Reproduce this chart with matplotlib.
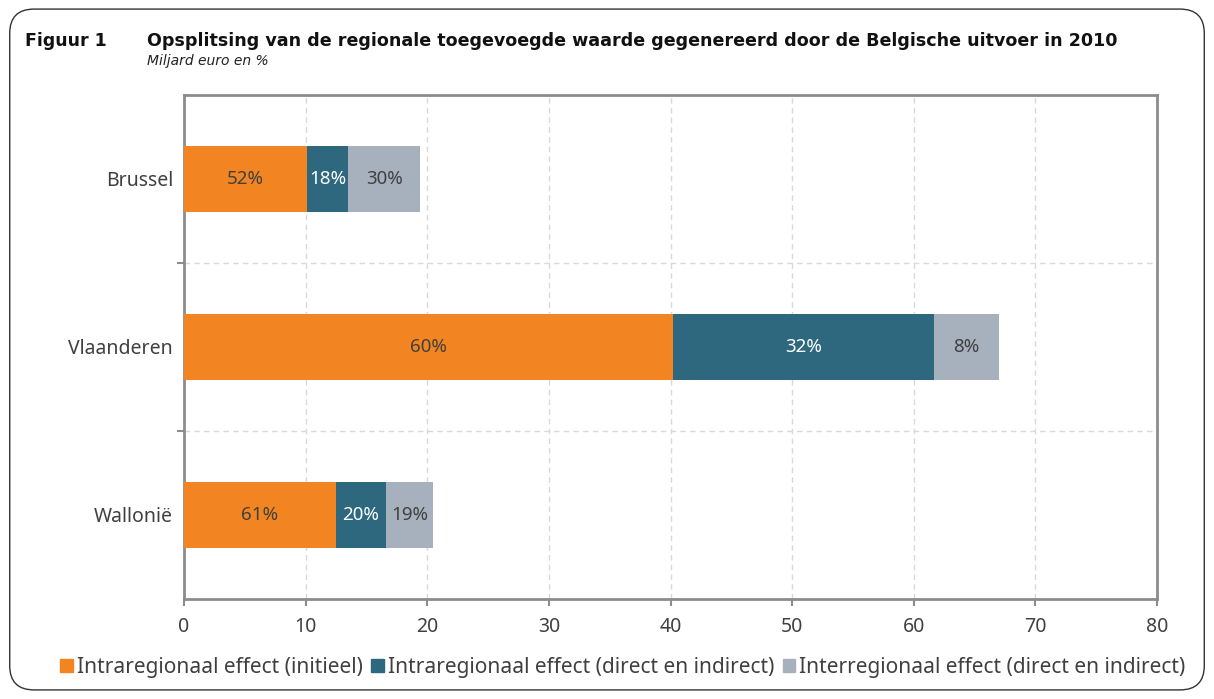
import matplotlib.pyplot as plt
from matplotlib.patches import FancyBboxPatch, Patch

regions = ['Brussel', 'Vlaanderen', 'Wallonië']
initieel = [10.1, 40.2, 12.5]
intra = [3.4, 21.5, 4.1]
inter = [5.9, 5.3, 3.9]
pct_initieel = ['52%', '60%', '61%']
pct_intra = ['18%', '32%', '20%']
pct_inter = ['30%', '8%', '19%']
legend_labels = ['Intraregionaal effect (initieel)',
                 'Intraregionaal effect (direct en indirect)',
                 'Interregionaal effect (direct en indirect)']
colors = ['#F28522', '#2E687E', '#A7B1BD']

plt.rcParams['font.family'] = ['Noto Sans', 'DejaVu Sans']

fig = plt.figure(figsize=(12.14, 6.99), dpi=100)
# rounded frame around the whole figure
frame = FancyBboxPatch((0.008, 0.013), 0.984, 0.974, boxstyle='round,pad=0,rounding_size=0.02',
                       transform=fig.transFigure, fill=False, edgecolor='#333333', lw=1.0,
                       mutation_aspect=1.74)
fig.patches.append(frame)

ax = fig.add_axes([184 / 1214, 1 - 599 / 699, (1157 - 184) / 1214, (599 - 95) / 699])
y = list(range(len(regions)))
h = 0.39
left2 = [a + b for a, b in zip(initieel, intra)]
b1 = ax.barh(y, initieel, height=h, color=colors[0], zorder=3)
b2 = ax.barh(y, intra, left=initieel, height=h, color=colors[1], zorder=3)
b3 = ax.barh(y, inter, left=left2, height=h, color=colors[2], zorder=3)

for bars, labels, tc in [(b1, pct_initieel, '#404040'), (b2, pct_intra, 'white'), (b3, pct_inter, '#404040')]:
    for bar, lab in zip(bars, labels):
        ax.text(bar.get_x() + bar.get_width() / 2, bar.get_y() + bar.get_height() / 2, lab,
                ha='center', va='center', color=tc, fontsize=13.5, zorder=4)

ax.set_xlim(0, 80)
ax.set_ylim(2.5, -0.5)
ax.set_xticks(range(0, 81, 10))
ax.set_yticks(y)
ax.set_yticklabels(regions)
ax.set_yticks([0.5, 1.5], minor=True)
ax.tick_params(axis='y', which='major', length=0, pad=8, labelsize=14, colors='#404040')
ax.tick_params(axis='y', which='minor', length=5, color='#8c8c8c', width=1.5)
ax.tick_params(axis='x', length=5, color='#8c8c8c', width=1.5, pad=8, labelsize=14, labelcolor='#404040')
ax.grid(axis='x', linestyle=(0, (4, 3)), color='#d9d9d9', lw=1, zorder=0)
ax.grid(axis='y', which='minor', linestyle=(0, (4, 3)), color='#d9d9d9', lw=1, zorder=0)
for s in ax.spines.values():
    s.set_color('#8c8c8c')
    s.set_linewidth(2)

fig.text(25 / 1214, 1 - 41 / 699, 'Figuur 1', fontsize=12.5, fontweight='bold', va='center',
         family='DejaVu Sans', color='#111111')
fig.text(147 / 1214, 1 - 41 / 699,
         'Opsplitsing van de regionale toegevoegde waarde gegenereerd door de Belgische uitvoer in 2010',
         fontsize=12.6, fontweight='bold', va='center', family='DejaVu Sans', color='#111111')
fig.text(147 / 1214, 1 - 61 / 699, 'Miljard euro en %', fontsize=10, style='italic', va='center',
         family='DejaVu Sans', color='#222222')

handles = [Patch(color=c, label=l) for c, l in zip(colors, legend_labels)]
fig.legend(handles=handles, loc='center', bbox_to_anchor=(623 / 1214, 1 - 667 / 699), ncol=3,
           frameon=False, fontsize=15, handlelength=0.6, handleheight=0.6, handletextpad=0.2,
           columnspacing=0.4, labelcolor='#404040')

fig.savefig('out.png', dpi=100)
